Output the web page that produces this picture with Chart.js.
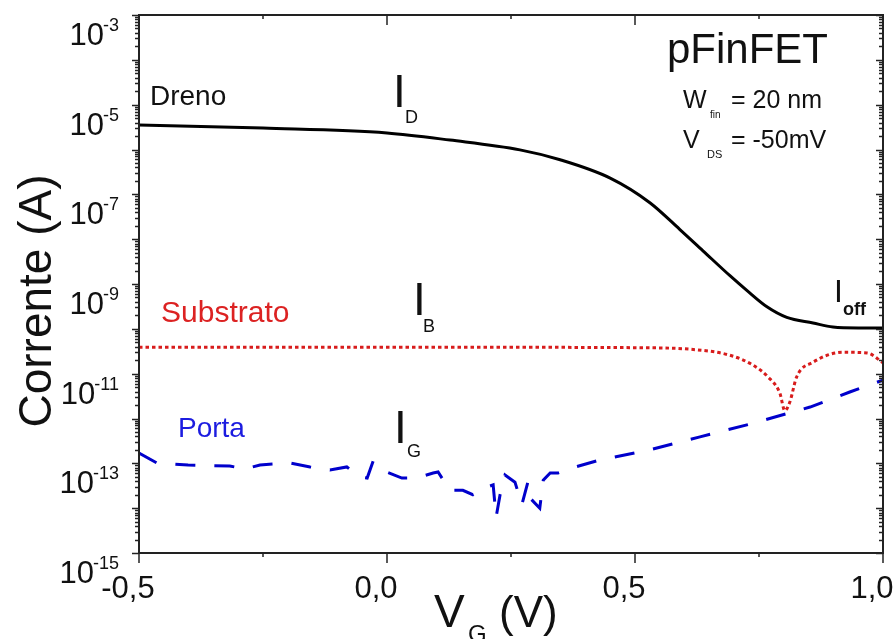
<!DOCTYPE html>
<html>
<head>
<meta charset="utf-8">
<script src="https://cdn.jsdelivr.net/npm/chart.js@4.4.1/dist/chart.umd.min.js"></script>
<style>
  html, body { margin: 0; padding: 0; background: #fff; }
  canvas { display: block; }
</style>
</head>
<body>
<canvas id="fetChart" width="896" height="639"></canvas>
<script>
// Curves: VG in volts, currents in amperes
const drenoV = [-0.5, -0.25, 0.0, 0.127, 0.268, 0.349, 0.45, 0.53, 0.59, 0.637, 0.692, 0.726, 0.766, 0.806, 0.859, 0.899, 0.95, 1.0];
const drenoI = [3.52e-6, 3.0e-6, 2.34e-6, 1.62e-6, 9.8e-7, 5.9e-7, 2.3e-7, 6.5e-8, 1.66e-8, 5.5e-9, 1.51e-9, 7.1e-10, 3.1e-10, 1.8e-10, 1.35e-10, 1.1e-10, 1.05e-10, 1.05e-10];

const substratoV = [-0.5, 0.0, 0.5, 0.625, 0.69, 0.738, 0.768, 0.792, 0.802, 0.812, 0.826, 0.859, 0.919, 0.968, 1.0];
const substratoI = [3.9e-11, 3.9e-11, 3.8e-11, 3.4e-11, 2.6e-11, 1.55e-11, 8.5e-12, 3.7e-12, 1.5e-12, 2.3e-12, 8.5e-12, 1.8e-11, 3.0e-11, 2.9e-11, 1.75e-11];

const portaV = [-0.5, -0.464, -0.401, -0.317, -0.286, -0.256, -0.196, -0.155, -0.115, -0.081, -0.054, -0.040, -0.028, 0.0, 0.030, 0.060, 0.093, 0.103, 0.127, 0.153, 0.173, 0.183, 0.214, 0.220, 0.228, 0.238, 0.258, 0.272, 0.284, 0.288, 0.308, 0.315, 0.329, 0.345, 0.373, 0.429, 0.530, 0.631, 0.732, 0.853, 0.933, 1.0];
const portaI = [1.70e-13, 1.02e-13, 9.2e-14, 8.7e-14, 7.5e-14, 9.2e-14, 1.02e-13, 8.3e-14, 7.1e-14, 8.3e-14, 4.9e-14, 4.7e-14, 1.12e-13, 6.4e-14, 4.7e-14, 4.7e-14, 6.1e-14, 6.4e-14, 2.5e-14, 2.5e-14, 2.0e-14, 2.5e-14, 3.3e-14, 6.3e-15, 2.0e-14, 5.5e-14, 3.8e-14, 1.2e-14, 3.8e-14, 1.7e-14, 1.0e-14, 4.2e-14, 6.1e-14, 6.1e-14, 7.9e-14, 1.19e-13, 2.0e-13, 3.9e-13, 7.5e-13, 1.8e-12, 3.9e-12, 7.2e-12];

// Axis ticks
const xTickValues = [-0.5, 0.0, 0.5, 1.0];
const xTickLabels = ['-0,5', '0,0', '0,5', '1,0'];
const xMinorValues = [-0.25, 0.25, 0.75];
const yLabelExps = [-15, -13, -11, -9, -7, -5, -3];

const FONT = '"Liberation Sans", Arial, sans-serif';

function toPoints(xs, ys) {
  return xs.map((v, i) => ({ x: v, y: ys[i] }));
}

function text(ctx, str, x, y, size, color, weight) {
  ctx.font = (weight || '') + ' ' + size + 'px ' + FONT;
  ctx.fillStyle = color || '#111';
  ctx.fillText(str, x, y);
}

// frame, ticks, tick labels, titles and annotations
const decor = {
  id: 'decor',
  afterDraw(chart) {
    const { ctx, chartArea: a, scales: { x, y } } = chart;
    ctx.save();
    ctx.strokeStyle = '#222';
    ctx.lineWidth = 2;
    ctx.strokeRect(a.left, a.top, a.right - a.left, a.bottom - a.top);

    const seg = (x1, y1, x2, y2) => {
      ctx.beginPath(); ctx.moveTo(x1, y1); ctx.lineTo(x2, y2); ctx.stroke();
    };
    ctx.lineWidth = 1.5;
    for (let e = -15; e <= -3; e++) {
      for (let m = 1; m <= 9; m++) {
        if (e === -3 && m > 1) break;
        const py = Math.round(y.getPixelForValue(m * Math.pow(10, e))) + 0.5;
        const len = m === 1 ? 7 : 4;
        seg(a.left - len, py, a.left, py);
        seg(a.right - len, py, a.right, py);
      }
    }
    xTickValues.forEach(v => {
      const px = x.getPixelForValue(v);
      seg(px, a.bottom, px, a.bottom + 10);
      seg(px, a.top, px, a.top + 10);
    });
    xMinorValues.forEach(v => {
      const px = x.getPixelForValue(v);
      seg(px, a.bottom, px, a.bottom + 4);
      seg(px, a.top, px, a.top + 4);
    });

    // y tick labels 10^n
    ctx.textBaseline = 'alphabetic';
    yLabelExps.forEach(e => {
      const py = y.getPixelForValue(Math.pow(10, e));
      const sup = String(e);
      ctx.font = '18px ' + FONT;
      const supW = ctx.measureText(sup).width;
      ctx.textAlign = 'left';
      text(ctx, sup, 119 - supW, py + 16, 18);
      ctx.textAlign = 'right';
      text(ctx, '10', 119 - supW + 1, py + 30, 31);
    });

    // x tick labels
    ctx.textAlign = 'center';
    xTickValues.forEach((v, i) => {
      text(ctx, xTickLabels[i], x.getPixelForValue(v) - 11, 598, 31);
    });

    // axis titles
    ctx.textAlign = 'left';
    text(ctx, 'V', 434, 627, 46);
    text(ctx, 'G', 468, 642, 24);
    text(ctx, '(V)', 499, 627, 44);

    ctx.save();
    ctx.translate(51, 301);
    ctx.rotate(-Math.PI / 2);
    ctx.textAlign = 'center';
    text(ctx, 'Corrente (A)', 0, 0, 46);
    ctx.restore();

    // annotations
    ctx.textAlign = 'left';
    text(ctx, 'Dreno', 150, 105, 28);
    text(ctx, 'I', 393, 107, 46);
    text(ctx, 'D', 405, 123, 18);

    text(ctx, 'Substrato', 161, 322, 30, '#dc2222');
    text(ctx, 'I', 413, 315, 46);
    text(ctx, 'B', 423, 332, 18);

    text(ctx, 'Porta', 178, 437, 28, '#1c1ce0');
    text(ctx, 'I', 394, 443, 46);
    text(ctx, 'G', 407, 457, 18);

    text(ctx, 'I', 834, 302, 32);
    text(ctx, 'off', 843, 315, 18, '#111', 'bold');

    text(ctx, 'pFinFET', 667, 63, 42);
    text(ctx, 'W', 683, 108, 25);
    text(ctx, 'fin', 710, 118, 10);
    text(ctx, '= 20 nm', 731, 108, 25);
    text(ctx, 'V', 683, 148, 25);
    text(ctx, 'DS', 707, 158, 11);
    text(ctx, '= -50mV', 731, 148, 25);
    ctx.restore();
  }
};

const config = {
  type: 'line',
  data: {
    datasets: [
      {
        label: 'Dreno',
        data: toPoints(drenoV, drenoI),
        borderColor: '#000000',
        borderWidth: 3,
        pointRadius: 0,
        cubicInterpolationMode: 'monotone'
      },
      {
        label: 'Substrato',
        data: toPoints(substratoV, substratoI),
        borderColor: '#d81c1c',
        borderWidth: 3,
        borderDash: [3.5, 3],
        pointRadius: 0,
        cubicInterpolationMode: 'monotone'
      },
      {
        label: 'Porta',
        data: toPoints(portaV, portaI),
        borderColor: '#0000cc',
        borderWidth: 3,
        borderDash: [20, 19],
        pointRadius: 0,
        tension: 0
      }
    ]
  },
  options: {
    responsive: false,
    animation: false,
    layout: { padding: { left: 139, right: 13, top: 15, bottom: 86 } },
    plugins: { legend: { display: false }, tooltip: { enabled: false } },
    scales: {
      x: { type: 'linear', min: -0.5, max: 1.0, display: false },
      y: { type: 'logarithmic', min: 1e-15, max: 1e-3, display: false }
    }
  },
  plugins: [decor]
};

const ctx = document.getElementById('fetChart').getContext('2d');
const fetChart = new Chart(ctx, config);
</script>
</body>
</html>
